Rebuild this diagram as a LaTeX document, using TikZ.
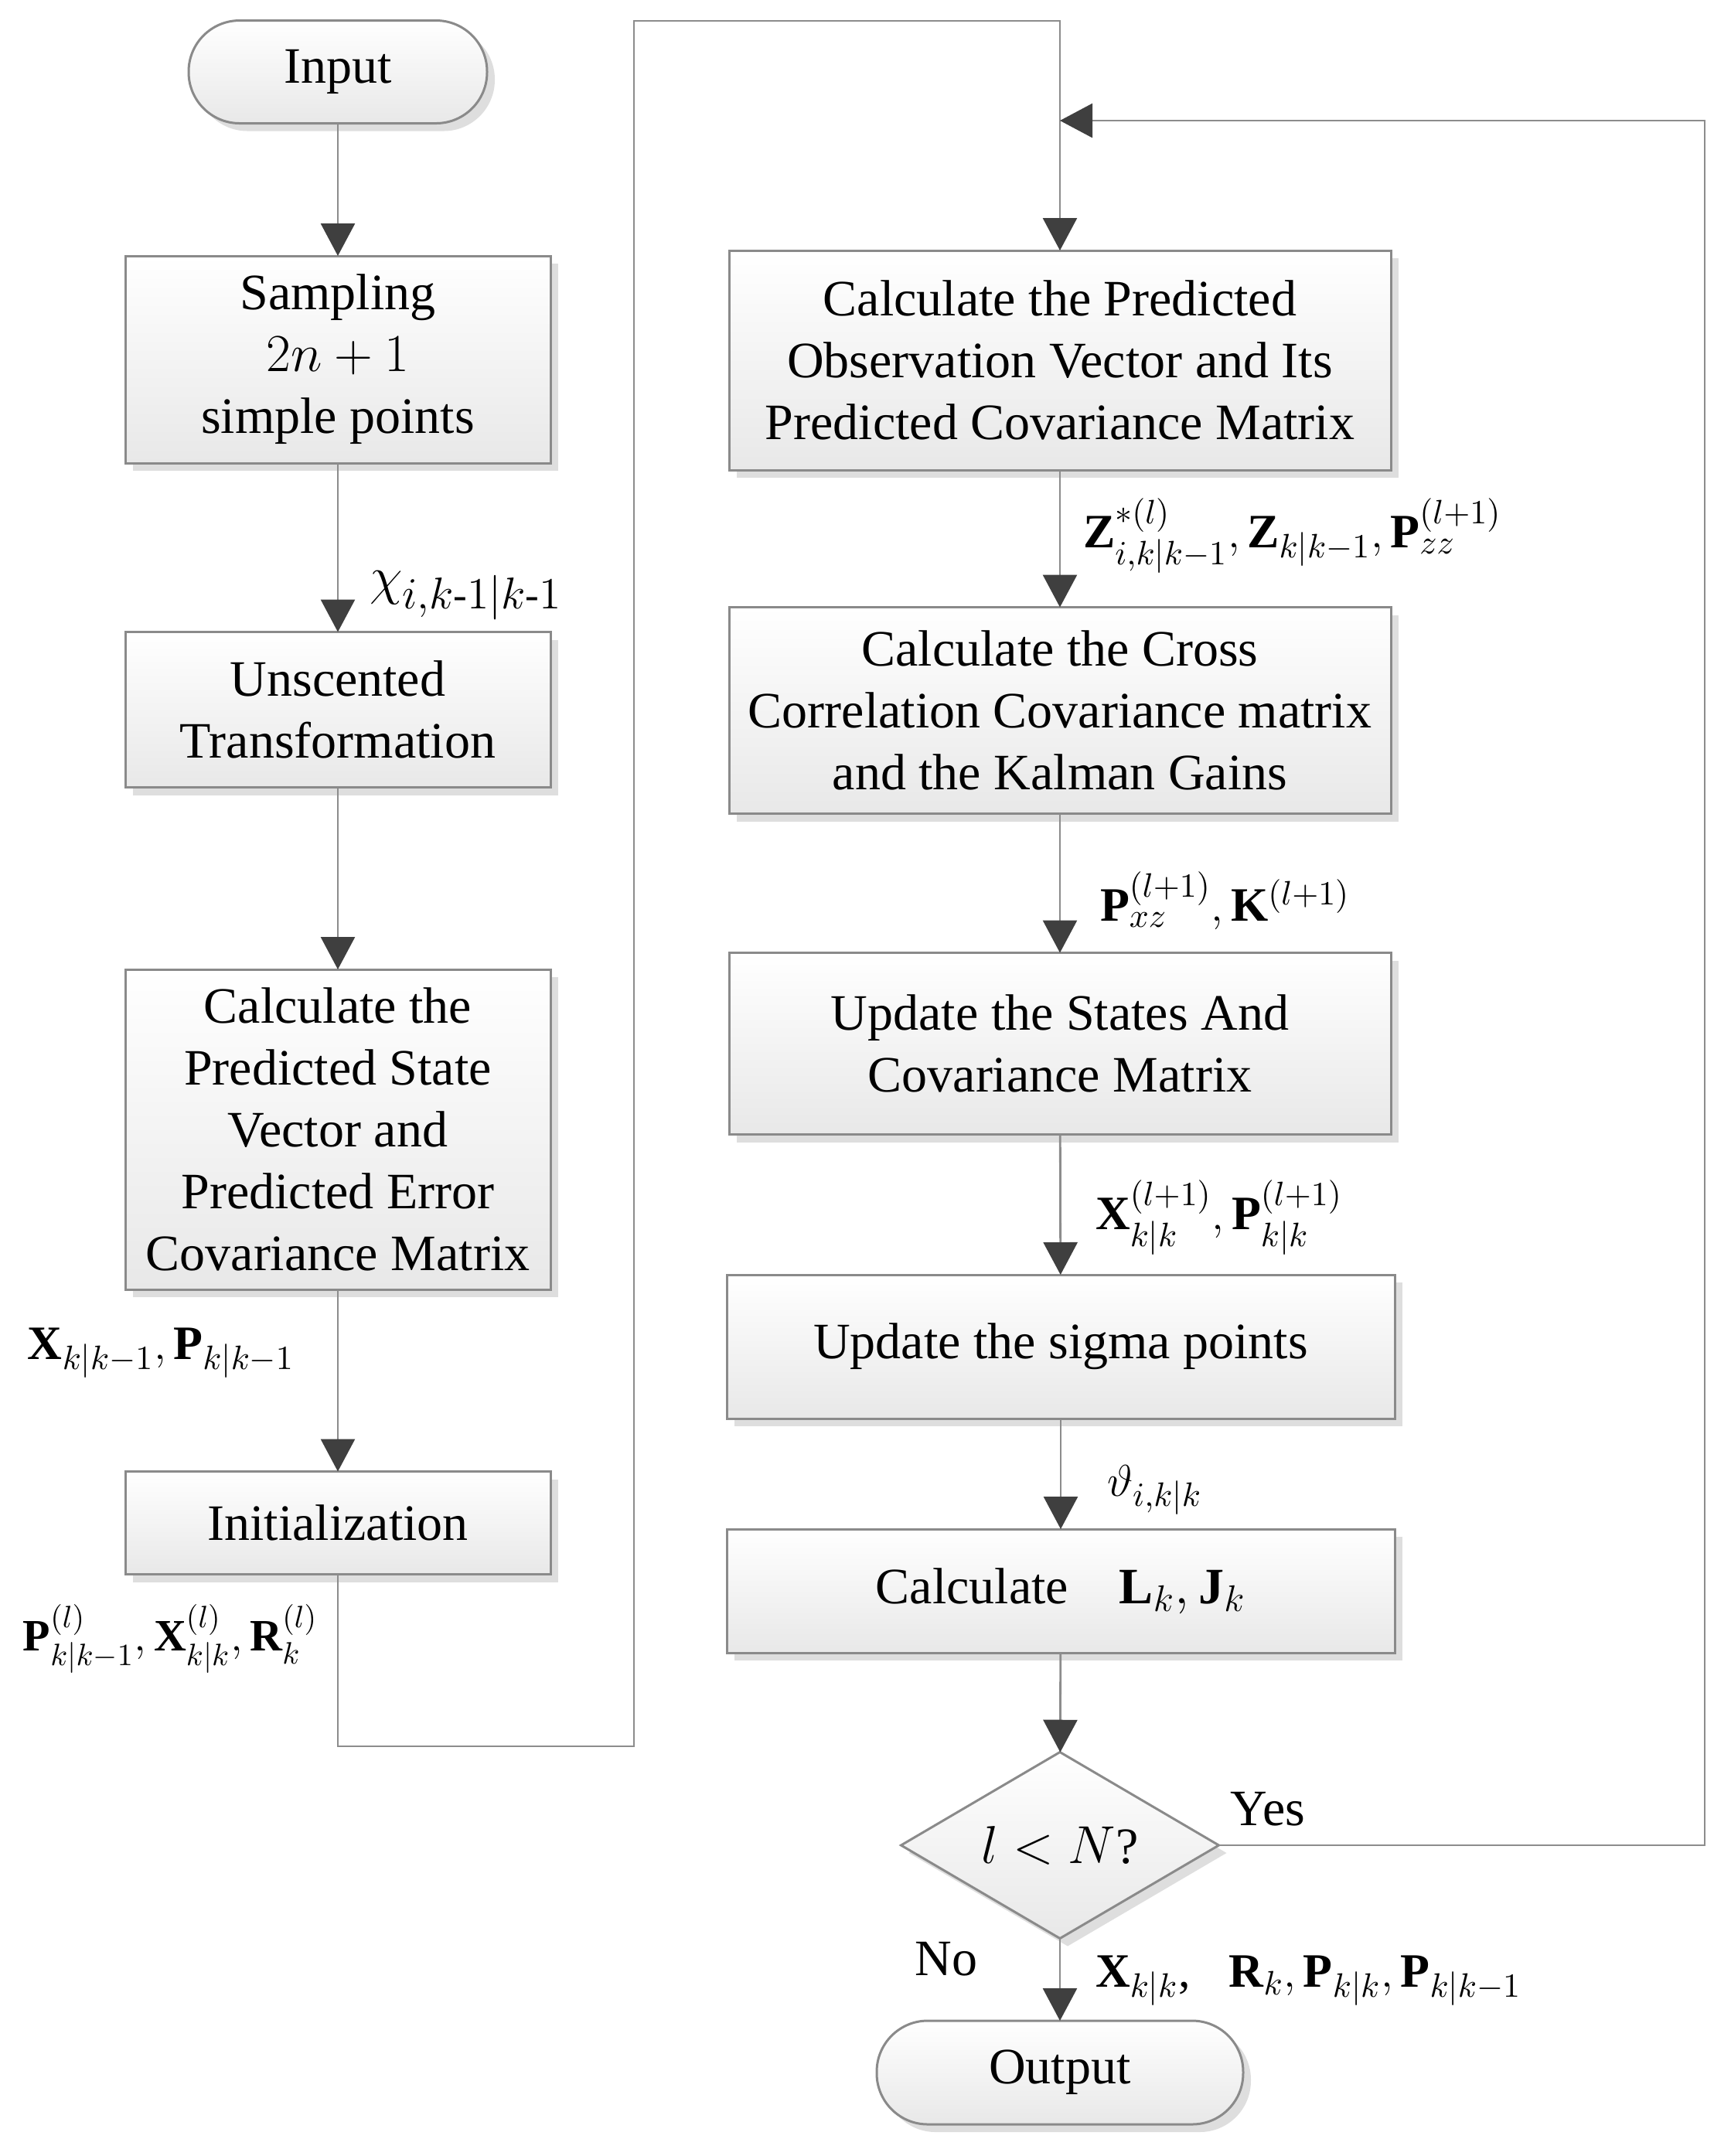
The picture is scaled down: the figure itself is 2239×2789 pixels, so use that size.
\documentclass[tikz,border=0pt]{standalone}
\usepackage{amsmath}
\usepackage{fontspec}
\setmainfont{Liberation Serif}
\usetikzlibrary{arrows.meta,shapes.geometric,shadows}
\definecolor{boxgray}{HTML}{8A8A8A}
\definecolor{linegray}{HTML}{8C8C8C}
\definecolor{tipgray}{HTML}{3F3F3F}
\begin{document}
\begin{tikzpicture}[x=0.25pt,y=-0.25pt,
  every node/.style={inner sep=0pt, outer sep=0pt},
  box/.style={draw=boxgray, line width=0.75pt, top color=white, bottom color=black!9,
    drop shadow={shadow xshift=2.5pt, shadow yshift=-2.5pt, fill=black!13, opacity=1},
    align=center, font=\fontsize{16.5}{20}\selectfont},
  term/.style={box, rounded corners=16.5pt, minimum height=33.25pt},
  lbl/.style={anchor=west, font=\fontsize{15.5}{19}\selectfont},
  arr/.style={draw=linegray, line width=0.7pt,
    -{Triangle[width=11pt,length=10.5pt,color=tipgray]}},
  ln/.style={draw=linegray, line width=0.7pt}]
\useasboundingbox (0,0) rectangle (2239,2789);

% left column
\node[term, minimum width=96.5pt] (input) at (437,93) {Input};
\node[box, minimum width=137.5pt, minimum height=67pt] (samp) at (437,465)
  {Sampling\\$2n+1$\\simple points};
\node[box, minimum width=137.5pt, minimum height=50.25pt] (ut) at (437,918)
  {Unscented\\Transformation};
\node[box, minimum width=137.5pt, minimum height=103.5pt] (pred) at (437,1461)
  {Calculate the\\Predicted State\\Vector and\\Predicted Error\\Covariance Matrix};
\node[box, minimum width=137.5pt, minimum height=33.25pt] (init) at (437,1970)
  {Initialization};

% right column
\node[box, minimum width=214pt, minimum height=71pt] (b1) at (1371,466)
  {Calculate the Predicted\\Observation Vector and Its\\Predicted Covariance Matrix};
\node[box, minimum width=214pt, minimum height=66.75pt] (b2) at (1371,919)
  {Calculate the Cross\\Correlation Covariance matrix\\and the Kalman Gains};
\node[box, minimum width=214pt, minimum height=58.75pt] (b3) at (1371,1350)
  {Update the States And\\Covariance Matrix};
\node[box, minimum width=216pt, minimum height=46.5pt] (b4) at (1372,1742)
  {Update the sigma points};
\node[box, minimum width=216pt, minimum height=40pt] (b5) at (1372,2058)
  {Calculate\quad $\mathbf{L}_k,\mathbf{J}_k$};
\node[box, diamond, aspect=1.7, minimum width=102.75pt, minimum height=60.25pt] (dec) at (1371,2387)
  {$l<N$?};
\node[term, minimum width=118.5pt, minimum height=33.5pt] (out) at (1371,2681) {Output};

% coordinates for routed connectors
\coordinate (r1) at (437,2259);
\coordinate (r2) at (820,2259);
\coordinate (r3) at (820,27);
\coordinate (r4) at (1371,27);
\coordinate (f1) at (2205,2387);
\coordinate (f2) at (2205,156);
\coordinate (f3) at (1371,156);

% connectors
\draw[arr] (input) -- (samp);
\draw[arr] (samp) -- (ut);
\draw[arr] (ut) -- (pred);
\draw[arr] (pred) -- (init);
\draw[arr] (init.south) -- (r1) -- (r2) -- (r3) -- (r4) -- (b1.north);
\draw[arr] (b1) -- (b2);
\draw[arr] (b2) -- (b3);
\draw[arr] (b3) -- (b4);
\draw[arr] (b4) -- (b5);
\draw[arr] (b5) -- (dec);
\draw[arr] (dec) -- (out);
\draw[arr] (dec.east) -- (f1) -- (f2) -- (f3);

% labels
\node[lbl, font=\fontsize{19}{22}\selectfont] (l1) at (478,770) {$\chi_{i,k\text{-}1|k\text{-}1}$};
\node[lbl] (l2) at (36,1750) {$\mathbf{X}_{k|k-1},\mathbf{P}_{k|k-1}$};
\node[lbl, font=\fontsize{14.5}{18}\selectfont] (l3) at (30,2120) {$\mathbf{P}^{(l)}_{k|k-1},\mathbf{X}^{(l)}_{k|k},\mathbf{R}^{(l)}_{k}$};
\node[lbl] (l4) at (1401,693) {$\mathbf{Z}^{*(l)}_{i,k|k-1},\mathbf{Z}_{k|k-1},\mathbf{P}^{(l+1)}_{zz}$};
\node[lbl] (l5) at (1423,1165) {$\mathbf{P}^{(l+1)}_{xz},\mathbf{K}^{(l+1)}$};
\node[lbl] (l6) at (1417,1575) {$\mathbf{X}^{(l+1)}_{k|k},\mathbf{P}^{(l+1)}_{k|k}$};
\node[lbl] (l7) at (1432,1927) {$\vartheta_{i,k|k}$};
\node[lbl] (l8) at (1417,2562) {$\mathbf{X}_{k|k}$,\;\; $\mathbf{R}_k,\mathbf{P}_{k|k},\mathbf{P}_{k|k-1}$};
\node[font=\fontsize{16.5}{20}\selectfont] (yes) at (1640,2340) {Yes};
\node[font=\fontsize{16.5}{20}\selectfont] (no) at (1224,2534) {No};
\end{tikzpicture}
\end{document}
